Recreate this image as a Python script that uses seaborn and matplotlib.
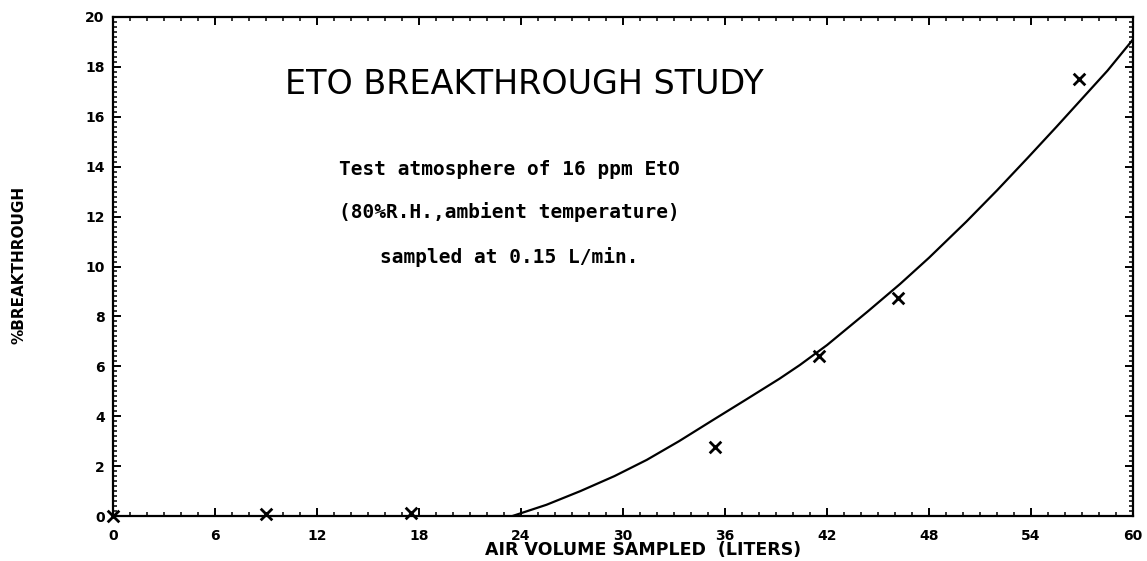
import numpy as np
import pandas as pd
import seaborn as sns
import matplotlib.pyplot as plt
from matplotlib.ticker import MultipleLocator

# breakthrough measurements (liters sampled, % breakthrough)
vol_pts = [0, 9, 17.5, 35.4, 41.5, 46.2, 56.8]
brk_pts = [0.0, 0.1, 0.12, 2.75, 6.4, 8.75, 17.5]

# hand drawn fitted curve
curve_x = [23.5, 25.5, 27.5, 29.5, 31.4, 33.3, 35.3, 37.2, 39.2, 40.4, 42.0,
           44.4, 46.3, 48.0, 50.2, 52.0, 53.8, 55.5, 56.9, 58.5, 60.0]
curve_y = [0.0, 0.45, 1.0, 1.6, 2.25, 3.0, 3.85, 4.65, 5.5, 6.05, 6.85,
           8.2, 9.3, 10.35, 11.8, 13.05, 14.35, 15.6, 16.65, 17.85, 19.1]

xticks = list(range(0, 61, 6))
yticks = list(range(0, 21, 2))

notes = ["Test atmosphere of 16 ppm EtO",
         "(80%R.H.,ambient temperature)",
         "sampled at 0.15 L/min."]

df_pts = pd.DataFrame({'vol': vol_pts, 'brk': brk_pts})
df_curve = pd.DataFrame({'vol': curve_x, 'brk': curve_y})

sns.set_style('ticks')
plt.rcParams['font.family'] = ['DejaVu Sans']
plt.rcParams['text.color'] = 'black'
plt.rcParams['xtick.labelcolor'] = 'black'
plt.rcParams['ytick.labelcolor'] = 'black'

fig = plt.figure(figsize=(11.47, 5.61), dpi=100)
ax = fig.add_axes([113/1147, 1 - 516/561, 1020/1147, 499/561])

sns.lineplot(data=df_curve, x='vol', y='brk', color='black', lw=1.6, ax=ax)
sns.scatterplot(data=df_pts, x='vol', y='brk', marker='x', s=70, color='black',
                linewidth=2, ax=ax, clip_on=False, zorder=5)

ax.set_xlim(0, 60)
ax.set_ylim(0, 20)
ax.set_xticks(xticks)
ax.set_yticks(yticks)
ax.xaxis.set_minor_locator(MultipleLocator(1))
ax.yaxis.set_minor_locator(MultipleLocator(0.2))
ax.tick_params(which='both', direction='in', top=True, right=True, color='black')
ax.tick_params(which='major', length=6, width=1.4)
ax.tick_params(which='minor', length=3, width=1.1)
ax.tick_params(axis='x', pad=9)
ax.tick_params(axis='y', pad=6)
for lab in ax.get_xticklabels() + ax.get_yticklabels():
    lab.set_fontweight('bold')
    lab.set_fontsize(10)
for sp in ax.spines.values():
    sp.set_linewidth(1.6)
    sp.set_color('black')

ax.set_xlabel('')
ax.set_ylabel('')
fig.text(643/1147, 1 - 550/561, 'AIR VOLUME SAMPLED  (LITERS)', ha='center', va='center',
         fontsize=12.5, fontweight='bold')
fig.text(19/1147, 1 - 265/561, '%BREAKTHROUGH', rotation=90, ha='center', va='center',
         fontsize=11, fontweight='bold')

ax.text(24.2, 17.3, 'ETO BREAKTHROUGH STUDY', ha='center', va='center', fontsize=24)
for yy, t in zip([13.9, 12.2, 10.4], notes):
    ax.text(23.3, yy, t, ha='center', va='center', fontsize=14,
            fontweight='bold', family='DejaVu Sans Mono')

fig.savefig('out.png', dpi=100)
